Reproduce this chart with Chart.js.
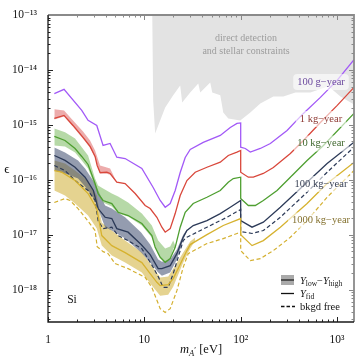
<!DOCTYPE html>
<html>
<head>
<meta charset="utf-8">
<script src="https://cdn.jsdelivr.net/npm/chart.js@4.4.1/dist/chart.umd.min.js"></script>
<style>
  html, body { margin: 0; padding: 0; background: #fff; }
</style>
</head>
<body>
<canvas id="chart" width="357" height="357"></canvas>
<script>
// ================= DATA =================
// masses in eV, kinetic mixing epsilon

const constraintMass = [12.05, 12.35, 12.95, 16.46, 19.93, 23.56, 24.7, 29.93, 36.3, 38.02, 48.31, 50.68, 61.38, 65.93, 74.32, 99.0, 125.9, 159.8, 218.3, 277.3, 369.6, 529, 814, 1084, 1500];
const constraintEps = [1e-13, 2.79e-15, 7.0e-16, 2.08e-15, 3.45e-15, 5.24e-15, 2.57e-15, 3.91e-15, 5.70e-15, 3.91e-15, 5.94e-15, 3.91e-15, 3.45e-15, 1.69e-15, 1.31e-15, 1.21e-15, 1.69e-15, 2.46e-15, 3.30e-15, 3.30e-15, 3.91e-15, 3.91e-15, 5.03e-15, 3.30e-15, 2.36e-15];

// 100 g-year
const mass100g = [1.163, 1.467, 2.24, 2.605, 3.208, 3.73, 4.41, 5.178, 6.317, 9.42, 12.35, 14.6, 16.46, 18.55, 20.9, 23.56, 26.56, 29.93, 40.87, 61.38, 77.97, 91.53, 100, 100, 111.6, 125.9, 159.8, 203.1, 302.9, 447.5, 672, 1002, 1500];
const eps100g = [3.70e-15, 4.43e-15, 1.84e-15, 1.21e-15, 9.79e-16, 4.23e-16, 4.60e-16, 2.59e-16, 2.45e-16, 1.61e-16, 7.27e-17, 4.22e-17, 3.18e-17, 3.72e-17, 6.41e-17, 1.36e-16, 2.56e-16, 3.58e-16, 4.80e-16, 6.44e-16, 9.01e-16, 1.07e-15, 1.09e-15, 3.94e-16, 3.73e-16, 3.20e-16, 3.73e-16, 4.60e-16, 7.94e-16, 1.62e-15, 3.17e-15, 6.47e-15, 1.54e-14];

// 1 kg-year
const mass1kg = [1.163, 1.467, 1.819, 2.31, 2.733, 3.08, 3.24, 3.472, 4.077, 4.41, 5.178, 6.317, 8.025, 10.19, 11.49, 13.49, 15.2, 16.46, 18.55, 20.9, 23.56, 27.66, 33.73, 44.64, 61.38, 74.32, 91.53, 100, 100, 120, 135.2, 171.8, 218.3, 327.8, 447.5, 672, 1005, 1500];
const eps1kg = [1.31e-15, 1.49e-15, 9.79e-16, 5.92e-16, 4.06e-16, 2.67e-16, 1.83e-16, 1.36e-16, 1.39e-16, 1.31e-16, 9.08e-17, 8.60e-17, 5.65e-17, 3.42e-17, 3.01e-17, 2.09e-17, 1.38e-17, 1.12e-17, 1.30e-17, 2.44e-17, 5.20e-17, 9.75e-17, 1.38e-16, 1.70e-16, 2.10e-16, 2.78e-16, 3.20e-16, 3.43e-16, 1.38e-16, 1.12e-16, 1.12e-16, 1.31e-16, 1.68e-16, 3.03e-16, 5.22e-16, 1.11e-15, 2.27e-15, 4.82e-15];
const mass1kgBand = [1.163, 1.467, 1.819, 2.31, 2.733, 3.08, 3.472, 4.077, 4.41, 5.178];
const eps1kgHigh = [1.92e-15, 1.84e-15, 1.21e-15, 7.61e-16, 5.22e-16, 3.43e-16, 1.83e-16, 1.68e-16, 1.61e-16, 9.08e-17];
const eps1kgLow = [1.25e-15, 1.42e-15, 9.3e-16, 5.6e-16, 3.85e-16, 2.55e-16, 1.3e-16, 1.3e-16, 1.24e-16, 8.9e-17];

// 10 kg-year
const mass10kg = [1.163, 1.502, 1.909, 2.24, 2.605, 3.08, 3.31, 3.73, 4.595, 5.342, 6.785, 9.42, 11.97, 12.95, 14.6, 16.46, 18.55, 20.9, 23.56, 26.56, 32.16, 44.64, 61.38, 74.32, 83.78, 100, 100, 120, 141.8, 171.8, 238.5, 327.8, 488.9, 722.3, 1500];
const eps10kg = [6.17e-16, 5.22e-16, 3.73e-16, 2.67e-16, 1.91e-16, 8.60e-17, 5.65e-17, 4.22e-17, 3.72e-17, 2.58e-17, 2.25e-17, 1.61e-17, 9.71e-18, 5.94e-18, 3.91e-18, 3.17e-18, 3.70e-18, 5.94e-18, 1.38e-17, 2.58e-17, 3.72e-17, 4.84e-17, 6.41e-17, 9.08e-17, 1.06e-16, 1.12e-16, 4.58e-17, 3.42e-17, 3.42e-17, 4.22e-17, 6.41e-17, 1.12e-16, 2.26e-16, 4.23e-16, 1.62e-15];
const mass10kgBand = [1.163, 1.502, 1.909, 2.24, 2.605, 3.08, 3.31, 3.73, 4.595, 5.342, 6.785, 9.42, 11.97, 13.92, 16.46, 18.55, 19.93, 20.9];
const eps10kgHigh = [8.64e-16, 7.39e-16, 5.68e-16, 3.94e-16, 2.78e-16, 1.06e-16, 7.91e-17, 6.97e-17, 5.65e-17, 4.99e-17, 3.88e-17, 2.44e-17, 1.48e-17, 7.87e-18, 5.63e-18, 6.12e-18, 7.87e-18, 6.38e-18];
const eps10kgLow = [4.23e-16, 4.06e-16, 3.16e-16, 2.26e-16, 1.61e-16, 7.58e-17, 5.20e-17, 3.88e-17, 3.28e-17, 2.44e-17, 2.15e-17, 1.48e-17, 8.93e-18, 4.38e-18, 3.13e-18, 3.55e-18, 5.63e-18, 5.87e-18];

// 100 kg-year
const mass100kg = [1.163, 1.502, 1.909, 2.425, 2.957, 3.31, 3.913, 4.595, 5.178, 6.785, 9.26, 11.49, 13.92, 15.2, 18.55, 21.77, 25.31, 27.66, 32.16, 44.64, 61.38, 77.97, 100, 100, 131.1, 171.8, 258, 488.9, 789, 1500];
const eps100kg = [2.78e-16, 2.26e-16, 1.70e-16, 1.12e-16, 6.41e-17, 3.01e-17, 2.09e-17, 1.98e-17, 1.30e-17, 1.12e-17, 6.66e-18, 4.38e-18, 2.43e-18, 2.43e-18, 2.76e-18, 4.56e-18, 9.04e-18, 1.20e-17, 1.48e-17, 1.82e-17, 2.44e-17, 3.18e-17, 4.22e-17, 1.82e-17, 1.38e-17, 1.70e-17, 3.18e-17, 9.08e-17, 1.99e-16, 4.86e-16];
const mass100kgBand = [1.163, 1.502, 2.05, 2.425, 3.08, 3.913, 4.595, 6.317, 9.26, 11.49, 13.92, 15.2, 18.55, 21.77, 25.31, 27.66];
const eps100kgHigh = [3.89e-16, 3.16e-16, 2.26e-16, 1.61e-16, 8.60e-17, 3.42e-17, 3.01e-17, 2.09e-17, 1.10e-17, 6.66e-18, 3.55e-18, 3.26e-18, 3.55e-18, 5.40e-18, 1.01e-17, 1.25e-17];
const eps100kgLow = [1.48e-16, 1.31e-16, 1.06e-16, 7.58e-17, 4.22e-17, 1.38e-17, 1.20e-17, 8.56e-18, 4.76e-18, 3.13e-18, 2.06e-18, 1.81e-18, 2.06e-18, 3.55e-18, 8.21e-18, 1.15e-17];
const mass100kgFree = [1.163, 1.502, 1.909, 2.605, 3.08, 3.31, 3.73, 4.595, 5.342, 6.785, 9.42, 12.35, 13.92, 15.68, 17.68, 19.93, 22.46, 25.31, 27.66, 44.64, 72.05, 100, 100, 131.1, 171.8, 258, 488.9, 789, 1500];
const eps100kgFree = [1.83e-16, 1.48e-16, 9.75e-17, 6.41e-17, 4.22e-17, 1.82e-17, 1.30e-17, 1.38e-17, 9.71e-18, 7.87e-18, 5.63e-18, 2.57e-18, 1.74e-18, 1.11e-18, 1.11e-18, 1.97e-18, 3.91e-18, 7.87e-18, 9.04e-18, 1.38e-17, 2.09e-17, 2.89e-17, 1.15e-17, 1.06e-17, 1.20e-17, 2.09e-17, 5.97e-17, 1.38e-16, 3.94e-16];

// 1000 kg-year
const mass1000kg = [1.163, 1.388, 1.909, 2.605, 3.208, 3.616, 4.595, 6.317, 9.42, 11.49, 13.49, 14.6, 17.68, 19.93, 27.66, 29.93, 44.64, 65.93, 100, 100, 131.1, 171.8, 258, 488.9, 789, 1500];
const eps1000kg = [1.48e-16, 1.38e-16, 9.75e-17, 5.65e-17, 3.01e-17, 9.71e-18, 6.38e-18, 4.76e-18, 3.13e-18, 1.97e-18, 1.37e-18, 1.19e-18, 1.24e-18, 1.60e-18, 5.18e-18, 6.66e-18, 1.01e-17, 1.48e-17, 1.98e-17, 1.01e-17, 6.38e-18, 7.87e-18, 1.38e-17, 3.72e-17, 8.60e-17, 2.07e-16];
const mass1000kgBand = [1.163, 1.502, 1.909, 2.605, 3.208, 3.616, 4.595, 6.317, 9.42, 11.49, 14.6, 17.68, 19.93, 25.31, 29.93, 33.73];
const eps1000kgHigh = [2.26e-16, 1.99e-16, 1.48e-16, 9.75e-17, 5.20e-17, 1.67e-17, 1.20e-17, 7.87e-18, 4.76e-18, 3.00e-18, 1.67e-18, 1.74e-18, 2.43e-18, 4.76e-18, 7.55e-18, 8.93e-18];
const eps1000kgLow = [6.41e-17, 5.20e-17, 3.72e-17, 2.25e-17, 1.30e-17, 6.38e-18, 4.20e-18, 3.13e-18, 2.06e-18, 1.30e-18, 7.84e-19, 8.18e-19, 1.14e-18, 3.13e-18, 5.63e-18, 7.87e-18];
const mass1000kgFree = [1.163, 1.502, 1.693, 2.05, 2.425, 3.08, 3.24, 3.73, 4.206, 4.972, 6.785, 10.19, 11.97, 14.6, 16.46, 18.55, 21.77, 25.31, 28.53, 44.64, 65.93, 91.53, 100, 100, 125.9, 159.8, 218.3, 327.8, 488.9, 789, 1500];
const eps1000kgFree = [3.88e-17, 4.58e-17, 4.22e-17, 3.01e-17, 2.09e-17, 1.20e-17, 6.12e-18, 4.96e-18, 4.56e-18, 3.00e-18, 2.43e-18, 1.69e-18, 1.11e-18, 4.55e-19, 3.89e-19, 4.55e-19, 9.67e-19, 2.57e-18, 4.56e-18, 6.94e-18, 8.56e-18, 1.06e-17, 1.12e-17, 5.18e-18, 3.40e-18, 3.70e-18, 5.18e-18, 9.04e-18, 1.82e-17, 4.84e-17, 1.48e-16];

const xTicks = [1, 10, 100, 1000];
const yTicks = [1e-18, 1e-17, 1e-16, 1e-15, 1e-14, 1e-13];
const seriesLabels = ["100 g\u2212year", "1 kg\u2212year", "10 kg\u2212year", "100 kg\u2212year", "1000 kg\u2212year"];

// ================= HELPERS =================
const SERIF = "'Liberation Serif', 'DejaVu Serif', serif";

function pts(xs, ys) {
  return xs.map((x, i) => ({ x: x, y: ys[i] }));
}

function sup(n) {
  return String(n).replace(/[-0-9]/g, c => "⁻⁰¹²³⁴⁵⁶⁷⁸⁹"["-0123456789".indexOf(c)]);
}

const datasets = [];

datasets.push({
  data: pts(constraintMass, constraintEps),
  fill: "end",
  backgroundColor: "#e3e3e3",
  borderWidth: 0,
  pointRadius: 0,
  order: 30
});

function addBand(xs, lo, hi, color, order) {
  const i = datasets.length;
  datasets.push({ data: pts(xs, hi), borderWidth: 0, pointRadius: 0, fill: false, order: order });
  datasets.push({ data: pts(xs, lo), borderWidth: 0, pointRadius: 0, fill: i, backgroundColor: color, order: order });
}

function addLine(xs, ys, color, dashed) {
  datasets.push({
    data: pts(xs, ys),
    borderColor: color,
    borderWidth: dashed ? 1.2 : 1.3,
    borderDash: dashed ? [4, 2.5] : [],
    pointRadius: 0,
    fill: false,
    tension: 0,
    order: 1
  });
}

addBand(mass1000kgBand, eps1000kgLow, eps1000kgHigh, "rgba(212,182,70,0.6)", 12);
addBand(mass100kgBand, eps100kgLow, eps100kgHigh, "rgba(60,75,110,0.55)", 11);
addBand(mass10kgBand, eps10kgLow, eps10kgHigh, "rgba(110,180,80,0.5)", 10);
addBand(mass1kgBand, eps1kgLow, eps1kgHigh, "rgba(220,90,90,0.5)", 10);

addLine(mass1000kgFree, eps1000kgFree, "#d4b030", true);
addLine(mass1000kg, eps1000kg, "#d6b22f", false);
addLine(mass100kgFree, eps100kgFree, "#2c3a58", true);
addLine(mass100kg, eps100kg, "#2c3a58", false);
addLine(mass10kg, eps10kg, "#4e9f30", false);
addLine(mass1kg, eps1kg, "#d9473b", false);
addLine(mass100g, eps100g, "#a259f7", false);

// ================= DECORATION PLUGIN =================
const decor = {
  id: "decor",
  afterDatasetsDraw(chart) {
    const ctx = chart.ctx;
    ctx.save();

    // constraint region caption
    ctx.font = "10px " + SERIF;
    ctx.fillStyle = "#9c9c9c";
    ctx.textAlign = "center";
    ctx.textBaseline = "middle";
    ctx.fillText("direct detection", 246, 38);
    ctx.fillText("and stellar constraints", 246, 51);

    // exposure labels with soft boxes
    const spots = [
      [seriesLabels[0], 321, 82, "#6c4a9e"],
      [seriesLabels[1], 321, 119, "#8e3a34"],
      [seriesLabels[2], 321, 143.5, "#41692f"],
      [seriesLabels[3], 321, 184, "#3a4256"],
      [seriesLabels[4], 321, 220.5, "#857230"]
    ];
    ctx.font = "10.5px " + SERIF;
    spots.forEach(s => {
      const w = ctx.measureText(s[0]).width + 8;
      ctx.fillStyle = "rgba(255,255,255,0.6)";
      ctx.beginPath();
      ctx.roundRect(s[1] - w / 2, s[2] - 8, w, 16, 4);
      ctx.fill();
      ctx.fillStyle = s[3];
      ctx.fillText(s[0], s[1], s[2]);
    });

    ctx.restore();
  },
  afterDraw(chart) {
    const ctx = chart.ctx;
    const a = chart.chartArea;
    const xs = chart.scales.x, ys = chart.scales.y;
    ctx.save();

    // inward ticks on all four sides
    const xMinor = [], yMinor = [];
    for (let e = 0; e <= 3; e++) for (let k = 2; k <= 9; k++) if (k * Math.pow(10, e) < 1500) xMinor.push(k * Math.pow(10, e));
    for (let e = -19; e <= -14; e++) for (let k = 2; k <= 9; k++) {
      const v = k * Math.pow(10, e);
      if (v > 2.6e-19 && v < 1e-13) yMinor.push(v);
    }
    ctx.lineWidth = 1;
    function tickX(v, len) {
      const p = Math.round(xs.getPixelForValue(v)) + 0.5;
      ctx.strokeStyle = "#222";
      ctx.beginPath(); ctx.moveTo(p, a.bottom); ctx.lineTo(p, a.bottom - len); ctx.stroke();
      ctx.strokeStyle = "#888";
      ctx.beginPath(); ctx.moveTo(p, a.top); ctx.lineTo(p, a.top + len); ctx.stroke();
    }
    function tickY(v, len) {
      const p = Math.round(ys.getPixelForValue(v)) + 0.5;
      ctx.strokeStyle = "#222";
      ctx.beginPath(); ctx.moveTo(a.left, p); ctx.lineTo(a.left + len, p); ctx.stroke();
      ctx.strokeStyle = "#888";
      ctx.beginPath(); ctx.moveTo(a.right, p); ctx.lineTo(a.right - len, p); ctx.stroke();
    }
    xTicks.forEach(v => tickX(v, 5));
    xMinor.forEach(v => tickX(v, 2.5));
    yTicks.forEach(v => tickY(v, 5));
    yMinor.forEach(v => tickY(v, 2.5));

    // frame
    ctx.strokeStyle = "#8a8a8a";
    ctx.lineWidth = 1.8;
    ctx.beginPath();
    ctx.moveTo(a.left, a.top); ctx.lineTo(a.right, a.top); ctx.lineTo(a.right, a.bottom);
    ctx.stroke();
    ctx.strokeStyle = "#1a1a1a";
    ctx.lineWidth = 1.3;
    ctx.beginPath();
    ctx.moveTo(a.left, a.top); ctx.lineTo(a.left, a.bottom); ctx.lineTo(a.right, a.bottom);
    ctx.stroke();

    // legend
    ctx.fillStyle = "#aaaaaa";
    ctx.fillRect(281, 275, 13, 10);
    ctx.strokeStyle = "#3a3a3a";
    ctx.lineWidth = 1.6;
    ctx.beginPath(); ctx.moveTo(281, 280); ctx.lineTo(294, 280); ctx.stroke();
    ctx.strokeStyle = "#111";
    ctx.lineWidth = 1.3;
    ctx.beginPath(); ctx.moveTo(281, 293.5); ctx.lineTo(294, 293.5); ctx.stroke();
    ctx.setLineDash([3.5, 2]);
    ctx.beginPath(); ctx.moveTo(281, 306.5); ctx.lineTo(295, 306.5); ctx.stroke();
    ctx.setLineDash([]);

    ctx.fillStyle = "#111";
    ctx.textAlign = "left";
    ctx.textBaseline = "alphabetic";
    function run(parts, x, y) {
      parts.forEach(p => {
        ctx.font = p[1];
        ctx.fillText(p[0], x, y + (p[2] || 0));
        x += ctx.measureText(p[0]).width;
      });
    }
    const it = "italic 10.5px " + SERIF, rg = "10.5px " + SERIF, sb = "7.5px " + SERIF;
    run([["Y", it], ["low", sb, 2], ["\u2212", rg], ["Y", it], ["high", sb, 2]], 300, 283.5);
    run([["Y", it], ["fid", sb, 2]], 300, 297);
    run([["bkgd free", rg]], 300, 310);

    // axis titles and material tag
    run([["m", "italic 12.5px " + SERIF], ["A", "italic 8.5px " + SERIF, 2.5], ["\u2032", "8.5px " + SERIF, 0], [" [eV]", "12.5px " + SERIF]], 180, 353);
    ctx.font = "13px " + SERIF;
    ctx.textAlign = "center";
    ctx.textBaseline = "middle";
    ctx.fillText("\u03f5", 7, 170);
    ctx.font = "11.5px " + SERIF;
    ctx.fillText("Si", 72, 300);

    ctx.restore();
  }
};

// ================= CHART =================
new Chart(document.getElementById("chart"), {
  type: "line",
  data: { datasets: datasets },
  options: {
    responsive: false,
    animation: false,
    layout: { padding: { top: 15, right: 3, left: 0, bottom: 0 } },
    plugins: { legend: { display: false }, tooltip: { enabled: false } },
    scales: {
      x: {
        type: "logarithmic",
        min: 1,
        max: 1500,
        grid: { display: false },
        border: { display: false },
        afterBuildTicks: s => { s.ticks = xTicks.map(v => ({ value: v })); },
        afterFit: s => { s.height = 35; },
        ticks: {
          autoSkip: false,
          maxRotation: 0,
          padding: 3,
          color: "#111",
          font: { family: SERIF, size: 11.5 },
          callback: v => v < 100 ? String(v) : "10" + sup(Math.round(Math.log10(v)))
        }
      },
      y: {
        type: "logarithmic",
        min: 2.6e-19,
        max: 1e-13,
        grid: { display: false },
        border: { display: false },
        afterBuildTicks: s => { s.ticks = yTicks.map(v => ({ value: v })); },
        afterFit: s => { s.width = 48; },
        ticks: {
          autoSkip: false,
          padding: 3,
          color: "#111",
          font: { family: SERIF, size: 11.5 },
          callback: v => "10" + sup(Math.round(Math.log10(v)))
        }
      }
    }
  },
  plugins: [decor]
});
</script>
</body>
</html>
